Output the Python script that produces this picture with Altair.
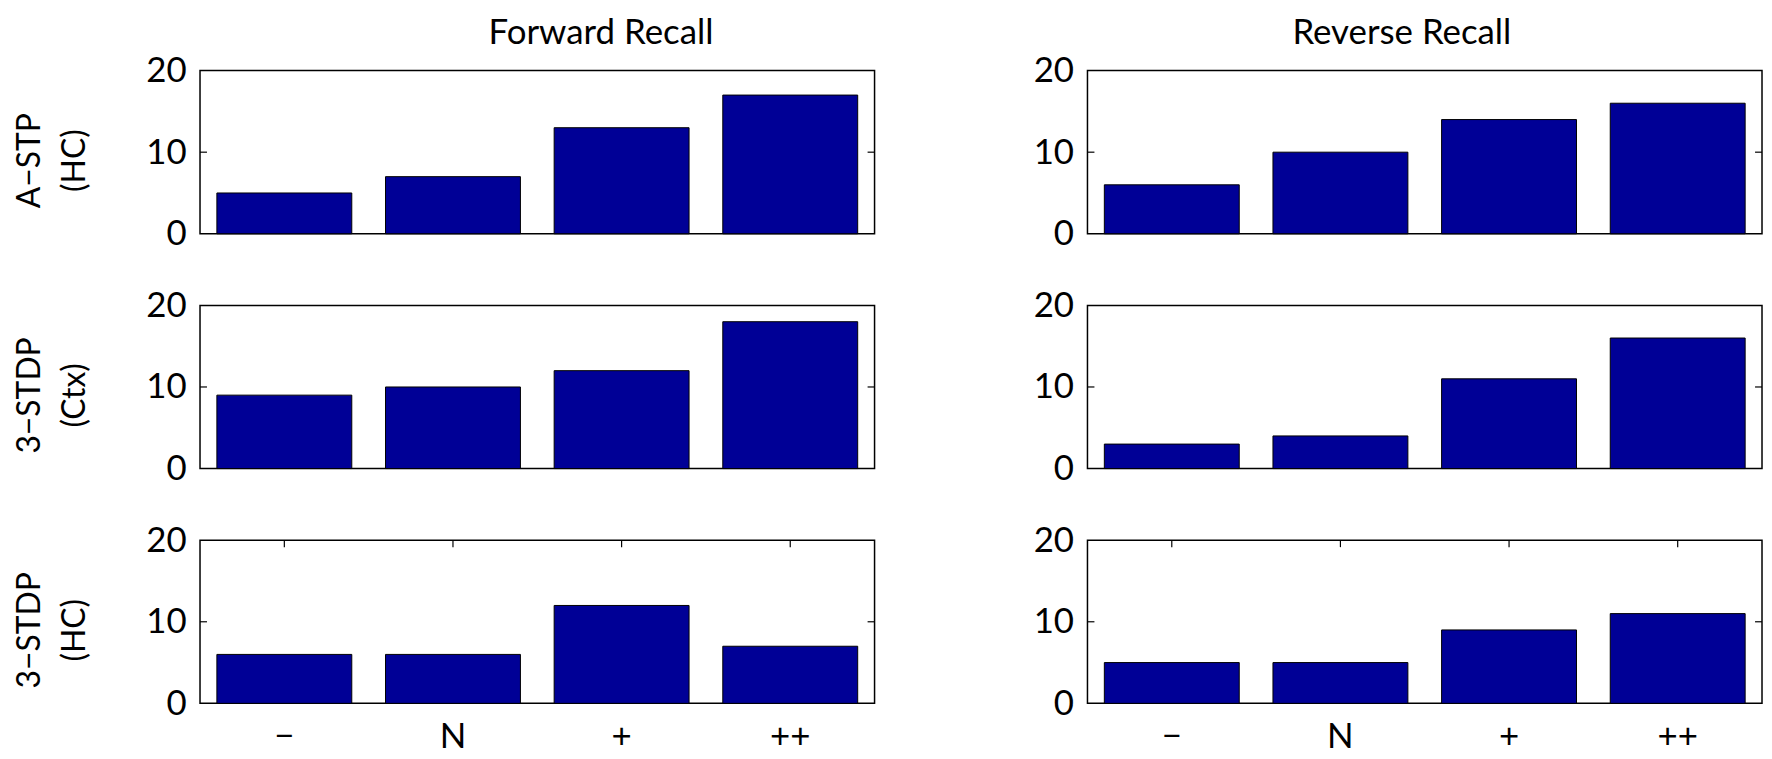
import altair as alt
import pandas as pd

categories = ["−", "N", "+", "++"]
row_labels = [["A−STP", "(HC)"], ["3−STDP", "(Ctx)"], ["3−STDP", "(HC)"]]
col_titles = ["Forward Recall", "Reverse Recall"]
forward = [[5, 7, 13, 17], [9, 10, 12, 18], [6, 6, 12, 7]]
reverse = [[6, 10, 14, 16], [3, 4, 11, 16], [5, 5, 9, 11]]
y_ticks = [0, 10, 20]
mid_tick = [10]

W, H = 678, 164
FONT = "Lato"
BAR = "#000096"
title_dx = [64, -23]


def panel(values, r, c):
    df = pd.DataFrame({"cat": categories, "val": values})
    base = alt.Chart(df)
    xscale = alt.Scale(domain=categories, paddingInner=0.2, paddingOuter=0.1)
    if r == 2:
        xaxis = alt.Axis(labelAngle=0, labelFontSize=35, labelPadding=16, tickSize=0,
                         domain=False, title=None, labelFont=FONT, labelColor="black")
    else:
        xaxis = None
    ykw = dict(values=y_ticks, labelFontSize=35, labelPadding=14, tickSize=0, domain=False,
               grid=False, labelFont=FONT, labelColor="black", minExtent=55, maxExtent=55)
    if c == 0:
        yaxis = alt.Axis(title=row_labels[r], titleFontSize=32, titleFont=FONT,
                         titleFontWeight="normal", titlePadding=54, titleLineHeight=45,
                         titleColor="black", titleY=H / 2 + 8, **ykw)
    else:
        yaxis = alt.Axis(title=None, **ykw)
    ysc = alt.Scale(domain=[0, 20], nice=False)
    bars = base.mark_bar(color=BAR, stroke="black", strokeWidth=1).encode(
        x=alt.X("cat:N", scale=xscale, axis=xaxis, sort=categories),
        y=alt.Y("val:Q", scale=ysc, axis=yaxis),
    )
    tdf = pd.DataFrame({"v": mid_tick})
    lt = alt.Chart(tdf).mark_rule(color="black", strokeWidth=1.2).encode(
        y=alt.Y("v:Q", scale=ysc, axis=yaxis), x=alt.value(0), x2=alt.value(7))
    rt = alt.Chart(tdf).mark_rule(color="black", strokeWidth=1.2).encode(
        y=alt.Y("v:Q", scale=ysc, axis=yaxis), x=alt.value(W - 7), x2=alt.value(W))
    layers = [bars, lt, rt]
    if r == 2:
        xt = base.mark_rule(color="black", strokeWidth=1.2).encode(
            x=alt.X("cat:N", scale=xscale, axis=xaxis, sort=categories),
            y=alt.value(0), y2=alt.value(7))
        layers.append(xt)
    if r == 0:
        tt = alt.Chart(pd.DataFrame({"t": [col_titles[c]]})).mark_text(
            fontSize=35, font=FONT, color="black", align="center", baseline="alphabetic"
        ).encode(text="t:N", x=alt.value(W / 2 + title_dx[c]), y=alt.value(-27))
        layers.append(tt)
    ch = alt.layer(*layers).properties(width=W, height=H)
    return ch


panels = []
for r in range(3):
    panels.append(panel(forward[r], r, 0))
    panels.append(panel(reverse[r], r, 1))

chart = alt.concat(*panels, columns=2, spacing={"row": 72, "column": 214}, bounds="flush").properties(
    padding={"top": 5, "left": 5, "right": 0, "bottom": 0}, background="white"
).configure_view(stroke="black", strokeWidth=1.5)

chart.save("out.html", embed_options={"renderer": "svg", "actions": False})
